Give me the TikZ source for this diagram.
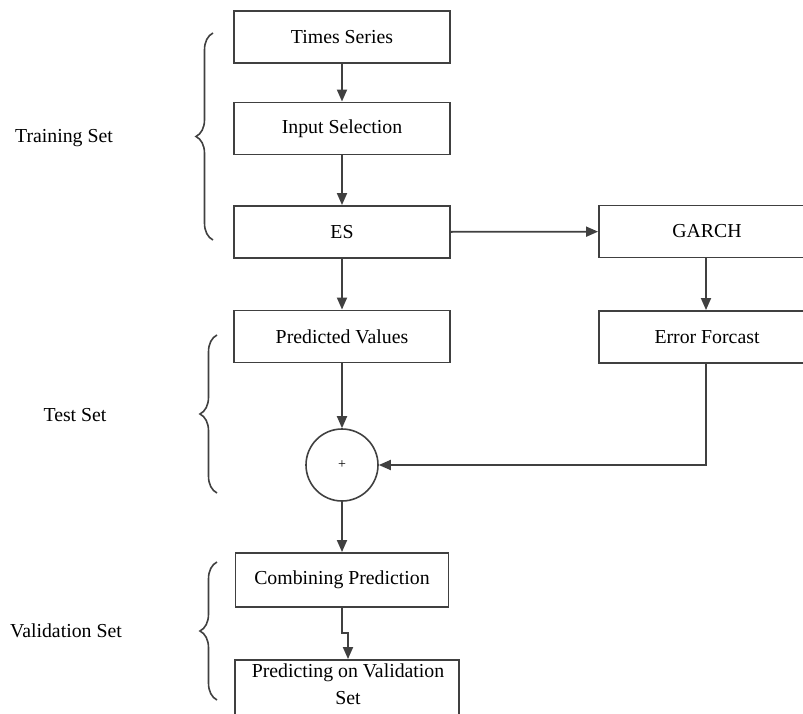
\documentclass[tikz,border=0pt]{standalone}
\usepackage{fontspec}
\setmainfont{Liberation Serif}
\usetikzlibrary{arrows.meta,decorations.pathreplacing}

\definecolor{edge}{HTML}{404040}

\tikzset{
  x=1pt, y=-1pt,
  every node/.style={font=\fontsize{19.8}{25}\selectfont, text=black},
  stepbox/.style={draw=edge, line width=1.9pt, rectangle, minimum width=216pt,
                  minimum height=52pt, inner sep=0pt, align=center},
  sumnode/.style={draw=edge, line width=1.6pt, circle, minimum size=72pt, inner sep=0pt},
  flow/.style={draw=edge, line width=1.8pt, -{Triangle[length=12pt,width=10pt]}},
  setbrace/.style={draw=edge, line width=1.6pt,
                   decorate, decoration={brace, amplitude=17pt, aspect=0.5}},
  setlabel/.style={anchor=center}
}

\begin{document}
\begin{tikzpicture}
\useasboundingbox (0,0) rectangle (803,714);

% main column
\node[stepbox] (ts)  at (342,37)    {Times Series};
\node[stepbox] (ins) at (342,128.5) {Input Selection};
\node[stepbox] (es)  at (342,232)   {ES};
\node[stepbox] (pv)  at (342,336.5) {Predicted Values};

% error branch
\node[stepbox] (garch) at (707,231.5) {GARCH};
\node[stepbox] (ef)    at (707,337)   {Error Forcast};

% combination
\node[sumnode] (sum) at (342,465) {\fontsize{14}{16}\selectfont +};

\node[stepbox, minimum width=213pt, minimum height=54pt] (cp) at (342,580) {Combining Prediction};
\node[stepbox, minimum width=224pt, minimum height=60pt] (pvs) at (347,690) {};
\node (pvs1) at (348,673) {Predicting on Validation};
\node (pvs2) at (348,698) {Set};

% connectors
\draw[flow] (ts) -- (ins);
\draw[flow] (ins) -- (es);
\draw[flow] (es) -- (pv);
\draw[flow] (es) -- (garch);
\draw[flow] (garch.south -| 706,0) -- (ef.north -| 706,0);
\draw[flow] (pv) -- (sum);
\draw[flow] (ef.south -| 706,0) |- (sum.east);
\draw[flow] (sum) -- (cp);
\coordinate (jogA) at (342,633);
\coordinate (jogB) at (348,633);
\draw[flow] (cp.south -| jogA) -- (jogA) -- (jogB) -- (pvs.north -| jogB);

% set braces
\coordinate (trB) at (213,240);
\coordinate (trT) at (213,33);
\coordinate (teB) at (217,493);
\coordinate (teT) at (217,335);
\coordinate (vaB) at (217,700);
\coordinate (vaT) at (217,562);
\draw[setbrace] (trB) -- (trT);
\draw[setbrace] (teB) -- (teT);
\draw[setbrace] (vaB) -- (vaT);

% set labels
\node[setlabel] (trL) at (64,138) {Training Set};
\node[setlabel] (teL) at (75,415) {Test Set};
\node[setlabel] (vaL) at (66,631) {Validation Set};
\end{tikzpicture}
\end{document}
